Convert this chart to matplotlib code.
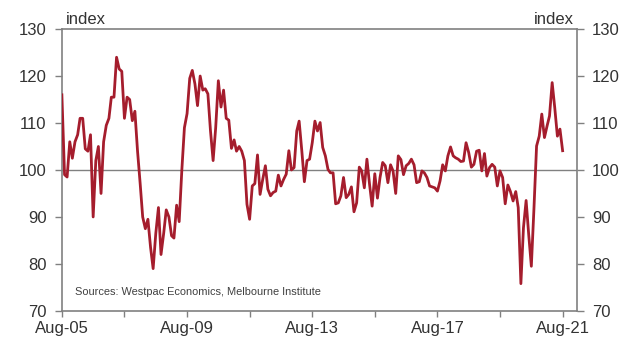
import numpy as np
import pandas as pd
import matplotlib
matplotlib.use("Agg")
import matplotlib.pyplot as plt
import matplotlib.dates as mdates

plt.rcParams['font.family'] = ['Liberation Sans', 'DejaVu Sans']

# monthly consumer sentiment index, Aug-05 .. Aug-21
sentiment = [
    116, 99, 98.5, 106, 102.5, 106, 107.5, 111, 111, 104.5,
    104, 107.5, 90, 102, 105, 95, 106, 109.5, 111, 115.5,
    115.5, 124, 121.5, 121, 111, 115.5, 115, 110.5, 112.5, 104,
    97, 90, 87.5, 89.5, 83.5, 79, 86.5, 92, 82, 86.5,
    91.5, 90, 86, 85.5, 92.5, 89, 100, 109, 112, 119.5,
    121.2, 118.3, 113.7, 120, 117, 117.3, 116.2, 108.4, 102, 109,
    119, 113.4, 117, 111, 110.6, 104.6, 106.4, 104, 105, 104,
    102, 92.7, 89.5, 96.6, 97.1, 103.2, 94.8, 98, 100.9, 95.9,
    94.5, 95.2, 95.5, 98.9, 96.6, 98, 99.1, 104.1, 100, 100.5,
    108.3, 110.4, 104.1, 97.5, 102, 102.3, 105.8, 110.4, 108.3, 110.1,
    104.8, 103, 100.1, 99.4, 99.4, 92.8, 93, 94.5, 98.4, 94.1,
    94.8, 96.4, 91.1, 93, 100.6, 99.8, 96.2, 102.3, 96.9, 92.3,
    99.2, 94, 98.4, 101.6, 100.9, 97.3, 101.1, 99.8, 95, 103,
    102.2, 99, 100.9, 101.4, 102.3, 101.1, 97.3, 97.5, 99.8, 99.4,
    98.4, 96.6, 96.4, 96.2, 95.5, 97.7, 101.1, 99.8, 103, 104.9,
    103, 102.6, 102.3, 101.8, 101.9, 105.8, 103.7, 100.6, 101.2, 104,
    104.2, 99.8, 103.5, 98.7, 100.5, 101.2, 100.6, 96.6, 99.8, 98.4,
    92.8, 96.8, 95.4, 93.4, 95.4, 92, 75.8, 87.7, 93.5, 86.3,
    79.5, 92, 105.1, 107.2, 111.9, 106.9, 109.4, 111.5, 118.6, 113.3,
    107.2, 108.7, 104.1,
]
months = pd.date_range("2005-08-01", periods=len(sentiment), freq="MS")

tick_dates = pd.date_range("2005-08-01", "2021-08-01", freq="24MS")
tick_labels = [d.strftime("%b-%y") if i % 2 == 0 else "" for i, d in enumerate(tick_dates)]
y_ticks = [70, 80, 90, 100, 110, 120, 130]

red = "#A51D2D"
grey = "#808080"
text_col = "#333333"

fig = plt.figure(figsize=(6.38, 3.42), dpi=100)
ax = fig.add_axes([0.097, 0.091, 0.807, 0.824])

ax.axhline(100, color=grey, lw=1.0, zorder=1)
ax.plot(months, sentiment, color=red, lw=2.0, zorder=3)

ax.set_xlim(pd.Timestamp("2005-08-01"), pd.Timestamp("2022-01-13"))
ax.set_ylim(70, 130)
ax.set_yticks(y_ticks)
ax.set_xticks(tick_dates)
ax.set_xticklabels(tick_labels)

ax.tick_params(axis="y", which="both", left=True, right=True, labelleft=True,
               labelright=True, direction="out", length=5, width=1,
               color=grey, labelcolor=text_col, labelsize=12, pad=6)
ax.tick_params(axis="x", direction="out", length=4, width=1, color=grey,
               labelcolor=text_col, labelsize=12, pad=3)

for s in ax.spines.values():
    s.set_color(grey)
    s.set_linewidth(1.2)

ax.text(0.008, 1.008, "index", transform=ax.transAxes, ha="left", va="bottom",
        fontsize=12, color=text_col)
ax.text(0.995, 1.008, "index", transform=ax.transAxes, ha="right", va="bottom",
        fontsize=12, color=text_col)
ax.text(0.025, 0.068, "Sources: Westpac Economics, Melbourne Institute",
        transform=ax.transAxes, ha="left", va="center", fontsize=7.9,
        color="#404040")

fig.savefig("out.png", dpi=100)
